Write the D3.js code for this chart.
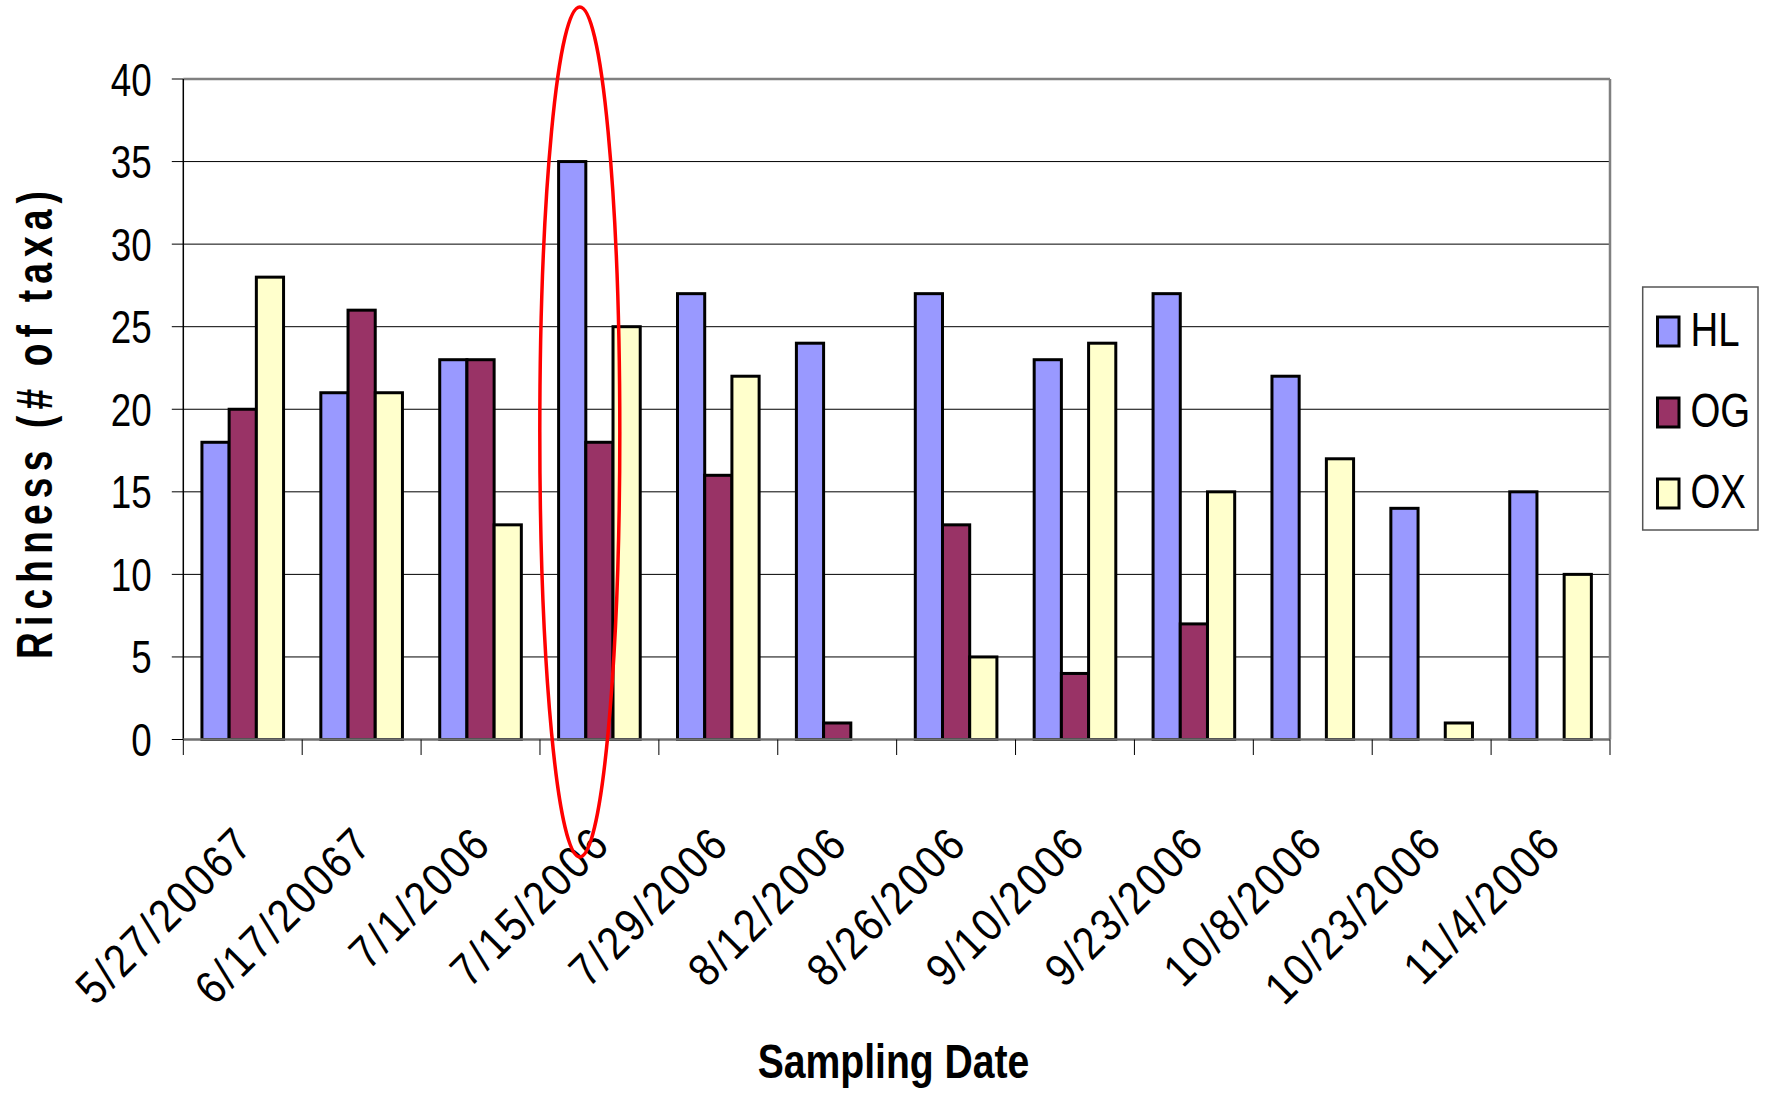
<!DOCTYPE html>
<html>
<head>
<meta charset="utf-8">
<script src="https://cdn.jsdelivr.net/npm/d3@7"></script>
<style>
  html, body { margin: 0; padding: 0; background: #fff; }
  svg { display: block; }
  text { font-family: "Liberation Sans", Arial, sans-serif; fill: #000; }
</style>
</head>
<body>
<svg id="chart" width="1765" height="1094"></svg>
<script>
// ---- data ----
const categories = ["5/27/20067", "6/17/20067", "7/1/2006", "7/15/2006", "7/29/2006", "8/12/2006",
                    "8/26/2006", "9/10/2006", "9/23/2006", "10/8/2006", "10/23/2006", "11/4/2006"];
const seriesNames = ["HL", "OG", "OX"];
const HL = [18, 21, 23, 35, 27, 24, 27, 23, 27, 22, 14, 15];
const OG = [20, 26, 23, 18, 16, 1, 13, 4, 7, null, null, null];
const OX = [28, 21, 13, 25, 22, null, 5, 24, 15, 17, 1, 10];
const yTicks = [0, 5, 10, 15, 20, 25, 30, 35, 40];
const highlighted = "7/15/2006";
const colors = { HL: "#9999FF", OG: "#993366", OX: "#FFFFCC" };

const seriesValues = { HL, OG, OX };

// ---- layout ----
const W = 1765, H = 1094;
const L = 183.3, R = 1610, T = 79, B = 739.5;

const svg = d3.select("#chart");
svg.append("rect").attr("width", W).attr("height", H).attr("fill", "#fff");

const x = d3.scaleBand().domain(categories).range([L, R]).padding(0);
const xi = d3.scaleBand().domain(seriesNames).range([0, x.bandwidth()]).paddingInner(0).paddingOuter(0.685);
const y = d3.scaleLinear().domain([0, 40]).range([B, T]);

// gridlines
svg.append("g").selectAll("line").data(yTicks.filter(v => v > 0 && v < 40)).join("line")
  .attr("x1", L).attr("x2", R)
  .attr("y1", d => y(d)).attr("y2", d => y(d))
  .attr("stroke", "#000").attr("stroke-width", 1);

// plot border (top and right gray)
svg.append("line").attr("x1", L).attr("x2", R).attr("y1", y(40)).attr("y2", y(40))
  .attr("stroke", "#808080").attr("stroke-width", 2.5);
svg.append("line").attr("x1", R).attr("x2", R).attr("y1", y(40)).attr("y2", y(0))
  .attr("stroke", "#808080").attr("stroke-width", 2.5);

// bars
const rows = [];
categories.forEach((c, i) => {
  seriesNames.forEach(s => {
    const v = seriesValues[s][i];
    if (v !== null && v !== undefined) rows.push({ c, s, v });
  });
});
svg.append("g").selectAll("rect").data(rows).join("rect")
  .attr("x", d => x(d.c) + xi(d.s))
  .attr("y", d => y(d.v))
  .attr("width", xi.bandwidth())
  .attr("height", d => y(0) - y(d.v))
  .attr("fill", d => colors[d.s])
  .attr("stroke", "#000")
  .attr("stroke-width", 3);

// y axis
const yAxisG = svg.append("g");
yAxisG.append("line").attr("x1", L).attr("x2", L).attr("y1", y(40)).attr("y2", y(0))
  .attr("stroke", "#000").attr("stroke-width", 1.5);
yAxisG.selectAll("line.tick").data(yTicks).join("line").attr("class", "tick")
  .attr("x1", L - 11.5).attr("x2", L)
  .attr("y1", d => y(d)).attr("y2", d => y(d))
  .attr("stroke", "#000").attr("stroke-width", 1);
yAxisG.selectAll("text").data(yTicks).join("text")
  .attr("transform", d => `translate(151.7,${y(d) + 16.5}) scale(0.8,1)`)
  .attr("text-anchor", "end")
  .attr("font-size", 46)
  .text(d => d);

// x axis
const xAxisG = svg.append("g");
xAxisG.append("line").attr("x1", L).attr("x2", R).attr("y1", y(0)).attr("y2", y(0))
  .attr("stroke", "#707070").attr("stroke-width", 2.5);
const boundaries = categories.map(c => x(c)).concat([x(categories[categories.length - 1]) + x.bandwidth()]);
xAxisG.selectAll("line.tick").data(boundaries).join("line").attr("class", "tick")
  .attr("x1", d => d).attr("x2", d => d)
  .attr("y1", y(0)).attr("y2", y(0) + 15.5)
  .attr("stroke", "#000").attr("stroke-width", 1);
xAxisG.selectAll("text").data(categories).join("text")
  .attr("transform", d => `translate(${x(d) + x.bandwidth() / 2 + 13},846) rotate(-45) scale(0.88,1)`)
  .attr("text-anchor", "end")
  .attr("font-size", 46)
  .attr("letter-spacing", 2.8)
  .text(d => d);

// axis titles
svg.append("text")
  .attr("transform", "translate(52,425) rotate(-90) scale(0.75,1)")
  .attr("text-anchor", "middle")
  .attr("font-size", 49.5)
  .attr("font-weight", "bold")
  .attr("textLength", 468 / 0.75)
  .attr("lengthAdjust", "spacing")
  .text("Richness (# of taxa)");

svg.append("text")
  .attr("transform", "translate(893.5,1078) scale(0.8,1)")
  .attr("text-anchor", "middle")
  .attr("font-size", 48.9)
  .attr("font-weight", "bold")
  .text("Sampling Date");

// legend
const lg = svg.append("g");
lg.append("rect").attr("x", 1642.7).attr("y", 287).attr("width", 115.3).attr("height", 243)
  .attr("fill", "#fff").attr("stroke", "#555").attr("stroke-width", 1.5);
const legendY = d3.scalePoint().domain(seriesNames).range([317, 479]);
lg.selectAll("rect.sw").data(seriesNames).join("rect").attr("class", "sw")
  .attr("x", 1657.5).attr("y", d => legendY(d))
  .attr("width", 21.5).attr("height", 29)
  .attr("fill", d => colors[d]).attr("stroke", "#000").attr("stroke-width", 3);
lg.selectAll("text").data(seriesNames).join("text")
  .attr("transform", d => `translate(1690.5,${legendY(d) + 28.5}) scale(0.8,1)`)
  .attr("font-size", 48)
  .text(d => d);

// highlight ellipse around the 7/15/2006 group
const ellTop = y(40) - 72, ellBottom = 857;
svg.append("ellipse")
  .attr("cx", x(highlighted) + x.bandwidth() * 0.335)
  .attr("cy", (ellTop + ellBottom) / 2)
  .attr("rx", 40)
  .attr("ry", (ellBottom - ellTop) / 2)
  .attr("fill", "none")
  .attr("stroke", "#FF0000")
  .attr("stroke-width", 3.5);
</script>
</body>
</html>
